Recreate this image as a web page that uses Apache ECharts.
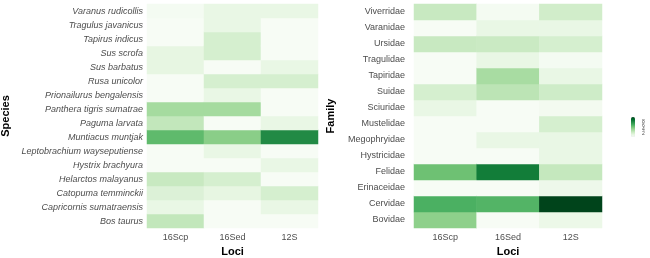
<!DOCTYPE html>
<html>
<head>
<meta charset="utf-8">
<script src="https://cdn.jsdelivr.net/npm/echarts@6/dist/echarts.min.js"></script>
<style>
  html, body { margin: 0; padding: 0; background: #fff; }
  #chart { width: 650px; height: 258px; }
</style>
</head>
<body>
<div id="chart"></div>
<script>
// loci on the x axis
const loci = ['16Scp', '16Sed', '12S']

// species, bottom row first
const speciesNames = [
  'Bos taurus', 'Capricornis sumatraensis', 'Catopuma temminckii', 'Helarctos malayanus',
  'Hystrix brachyura', 'Leptobrachium wayseputiense', 'Muntiacus muntjak', 'Paguma larvata',
  'Panthera tigris sumatrae', 'Prionailurus bengalensis', 'Rusa unicolor', 'Sus barbatus',
  'Sus scrofa', 'Tapirus indicus', 'Tragulus javanicus', 'Varanus rudicollis'
]
const species16Scp = [2.8, 1, 1.7, 2.6, 0, 0, 5.8, 2.8, 3.8, 0, 0, 1.2, 1.2, 0, 0, 0.2]
const species16Sed = [0, 0, 1.2, 2, 0, 1, 4.6, 0, 3.8, 1, 2, 0, 2, 2, 1, 1]
const species12S = [0, 1, 2, 0, 1, 0, 7.9, 1, 0, 0, 2, 1, 0, 0, 0, 1]

// families, bottom row first
const familyNames = [
  'Bovidae', 'Cervidae', 'Erinaceidae', 'Felidae', 'Hystricidae', 'Megophryidae', 'Mustelidae',
  'Sciuridae', 'Suidae', 'Tapiridae', 'Tragulidae', 'Ursidae', 'Varanidae', 'Viverridae'
]
const family16Scp = [4.5, 6.3, 0, 5.4, 0, 0, 0, 1, 2, 0, 0, 2.6, 0, 2.6]
const family16Sed = [0, 6.1, 0, 8.5, 0, 1, 0, 0, 3, 3.7, 1, 2.5, 1, 0.2]
const family12S = [0.8, 10.5, 0.7, 2.7, 1, 1, 2, 0.3, 2.3, 1, 0.2, 2, 1, 2.2]

// colour bar ticks
const legendTicks = [0, 2, 4, 6, 8, 10]

const greens = ['#f7fcf5', '#e5f5e0', '#c7e9c0', '#a1d99b', '#74c476', '#41ab5d', '#238b45', '#006d2c', '#00441b']
const font = 'Liberation Sans'
const legendMax = 10.5

function cells(cols) {
  const out = []
  cols.forEach((col, x) => {
    col.forEach((v, y) => out.push([x, y, v]))
  })
  return out
}

const chart = echarts.init(document.getElementById('chart'))

const xAxisBase = {
  type: 'category',
  data: loci,
  axisLine: { show: false },
  axisTick: { show: false },
  splitLine: { show: false },
  axisLabel: { color: '#4d4d4d', fontSize: 9, fontFamily: font, margin: 5 },
  name: 'Loci',
  nameLocation: 'middle',
  nameGap: 18,
  nameTextStyle: { color: '#000', fontSize: 11, fontWeight: 'bold', fontFamily: font }
}

chart.setOption({
  animation: false,
  backgroundColor: '#fff',
  grid: [
    { left: 147, top: 4, width: 171, height: 224, outerBoundsMode: 'none' },
    { left: 414, top: 4, width: 188, height: 224, outerBoundsMode: 'none' },
    { left: 631, top: 117, width: 4, height: 20, outerBoundsMode: 'none' }
  ],
  xAxis: [
    Object.assign({ gridIndex: 0 }, xAxisBase),
    Object.assign({ gridIndex: 1 }, xAxisBase),
    { gridIndex: 2, type: 'value', show: false }
  ],
  yAxis: [
    {
      gridIndex: 0,
      type: 'category',
      data: speciesNames,
      axisLine: { show: false },
      axisTick: { show: false },
      axisLabel: { color: '#4d4d4d', fontSize: 9, fontStyle: 'italic', fontFamily: font, margin: 4 },
      name: 'Species',
      nameLocation: 'middle',
      nameRotate: 90,
      nameGap: 136,
      nameTextStyle: { color: '#000', fontSize: 11, fontWeight: 'bold', fontFamily: font }
    },
    {
      gridIndex: 1,
      type: 'category',
      data: familyNames,
      axisLine: { show: false },
      axisTick: { show: false },
      axisLabel: { color: '#4d4d4d', fontSize: 9, fontFamily: font, margin: 9 },
      name: 'Family',
      nameLocation: 'middle',
      nameRotate: 90,
      nameGap: 78,
      nameTextStyle: { color: '#000', fontSize: 11, fontWeight: 'bold', fontFamily: font }
    },
    {
      gridIndex: 2,
      type: 'value',
      position: 'right',
      min: 0,
      max: legendMax,
      interval: 2,
      axisLine: { show: false },
      axisTick: { show: false },
      splitLine: { show: false },
      axisLabel: {
        color: '#4d4d4d', fontSize: 5, fontFamily: font, margin: 7,
        customValues: legendTicks
      }
    }
  ],
  visualMap: {
    type: 'continuous',
    min: 0,
    max: legendMax,
    seriesIndex: [0, 1],
    calculable: false,
    itemWidth: 4,
    itemHeight: 20,
    left: 631,
    top: 117,
    padding: 0,
    inRange: { color: greens }
  },
  series: [
    {
      type: 'heatmap',
      xAxisIndex: 0,
      yAxisIndex: 0,
      data: cells([species16Scp, species16Sed, species12S])
    },
    {
      type: 'heatmap',
      xAxisIndex: 1,
      yAxisIndex: 1,
      data: cells([family16Scp, family16Sed, family12S])
    }
  ]
})
</script>
</body>
</html>
